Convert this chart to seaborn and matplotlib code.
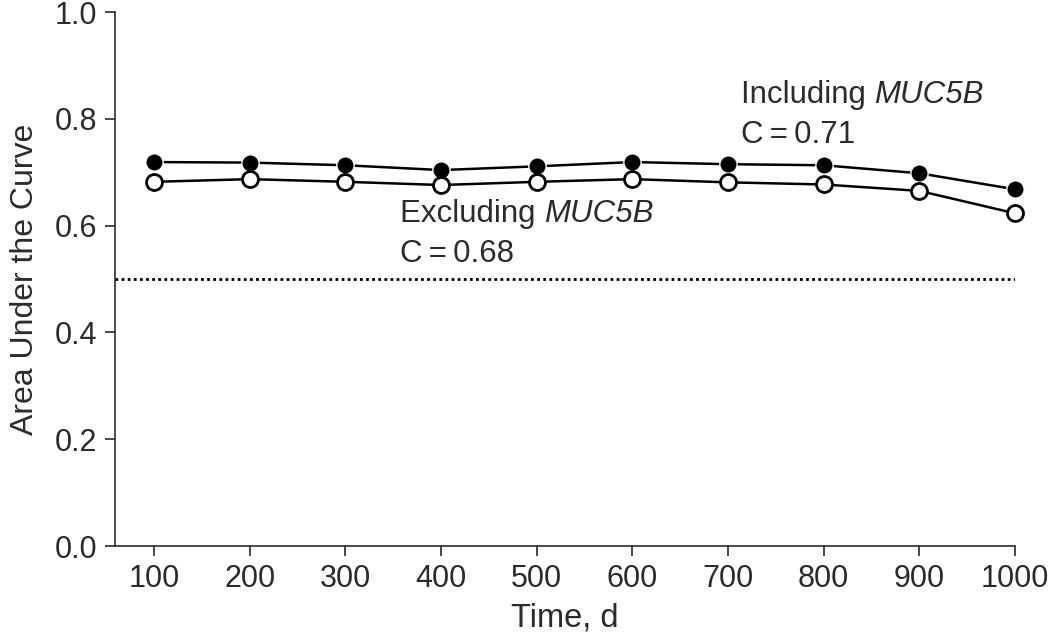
import matplotlib
matplotlib.use("Agg")
import matplotlib.pyplot as plt
import seaborn as sns
import pandas as pd

days = [100, 200, 300, 400, 500, 600, 700, 800, 900, 1000]
auc_including = [0.719, 0.718, 0.713, 0.704, 0.711, 0.719, 0.715, 0.713, 0.698, 0.668]
auc_excluding = [0.682, 0.687, 0.682, 0.676, 0.682, 0.687, 0.681, 0.677, 0.665, 0.623]
yticks = [0.0, 0.2, 0.4, 0.6, 0.8, 1.0]
xticks = days

sns.set_theme(style="ticks")
plt.rcParams['font.family'] = ['Liberation Sans', 'DejaVu Sans']

txt = '#2b2b2b'
fig = plt.figure(figsize=(10.5, 6.4), dpi=100)
ax = fig.add_axes([115/1050, 1 - 546/640, 900/1050, 534/640])

df_in = pd.DataFrame({'Time': days, 'AUC': auc_including})
df_ex = pd.DataFrame({'Time': days, 'AUC': auc_excluding})

ax.axhline(0.5, color='black', linestyle=(0, (1, 1.2)), linewidth=2.0, zorder=1)

sns.lineplot(data=df_in, x='Time', y='AUC', ax=ax, color='black', linewidth=1.8,
             marker='o', markersize=12.5, markerfacecolor='black',
             markeredgecolor='white', markeredgewidth=1.0, zorder=3, clip_on=False)
sns.lineplot(data=df_ex, x='Time', y='AUC', ax=ax, color='black', linewidth=1.8,
             marker='o', markersize=11.5, markerfacecolor='white',
             markeredgecolor='black', markeredgewidth=2.0, zorder=3, clip_on=False)

ax.set_xlim(59, 1000)
ax.set_ylim(0, 1.0)
ax.set_xticks(xticks)
ax.set_yticks(yticks)
ax.set_yticklabels([f"{v:.1f}" for v in yticks])
ax.tick_params(axis='both', labelsize=22, colors=txt, length=7, width=1.2, direction='out', pad=6)
for s in ['top', 'right']:
    ax.spines[s].set_visible(False)
for s in ['left', 'bottom']:
    ax.spines[s].set_color(txt)
    ax.spines[s].set_linewidth(1.2)

ax.set_xlabel('Time, d', fontsize=23.5, color=txt, labelpad=6)
ax.set_ylabel('Area Under the Curve', fontsize=23, color=txt, labelpad=10)

fs = 22.5


def label(x, y, plain, italic):
    t1 = ax.text(x, y, plain, fontsize=fs, color=txt, ha='left', va='bottom')
    ax.annotate(italic, xy=(1, 0), xycoords=t1, fontsize=fs, color=txt,
                ha='left', va='bottom', fontstyle='italic')


label(713, 0.817, 'Including ', 'MUC5B')
ax.text(713, 0.769, 'C\u2009=\u20090.71', fontsize=fs, color=txt, ha='left', va='center')
label(357, 0.593, 'Excluding ', 'MUC5B')
ax.text(357, 0.547, 'C\u2009=\u20090.68', fontsize=fs, color=txt, ha='left', va='center')

fig.savefig('out.png', dpi=100)
